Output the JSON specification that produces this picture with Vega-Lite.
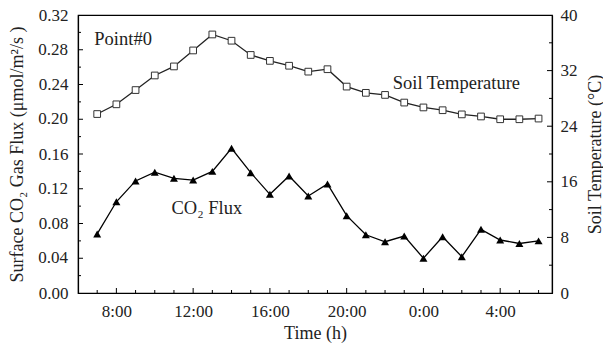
{
  "$schema": "https://vega.github.io/schema/vega-lite/v6.json",
  "width": 474,
  "height": 278,
  "autosize": {"type": "none"},
  "padding": {"left": 78, "top": 15, "right": 51, "bottom": 52},
  "background": "white",
  "config": {
    "view": {"stroke": "black", "strokeWidth": 1.2},
    "font": "Liberation Serif",
    "axis": {
      "domainColor": "black",
      "domainWidth": 1.2,
      "ticks": false,
      "labelColor": "#222",
      "titleColor": "#222",
      "labelFont": "Liberation Serif",
      "titleFont": "Liberation Serif",
      "labelFontSize": 17,
      "titleFontSize": 18,
      "titleFontWeight": "normal",
      "labelOverlap": false,
      "grid": false
    }
  },
  "datasets": {
    "main": [
      {"hour": 7, "flux": 0.068, "temp": 25.75},
      {"hour": 8, "flux": 0.105, "temp": 27.15},
      {"hour": 9, "flux": 0.129, "temp": 29.2},
      {"hour": 10, "flux": 0.139, "temp": 31.3},
      {"hour": 11, "flux": 0.132, "temp": 32.6},
      {"hour": 12, "flux": 0.130, "temp": 34.9},
      {"hour": 13, "flux": 0.140, "temp": 37.2},
      {"hour": 14, "flux": 0.1666, "temp": 36.3},
      {"hour": 15, "flux": 0.1385, "temp": 34.25},
      {"hour": 16, "flux": 0.1136, "temp": 33.4},
      {"hour": 17, "flux": 0.1347, "temp": 32.7},
      {"hour": 18, "flux": 0.1117, "temp": 31.85},
      {"hour": 19, "flux": 0.1255, "temp": 32.2},
      {"hour": 20, "flux": 0.089, "temp": 29.7},
      {"hour": 21, "flux": 0.067, "temp": 28.8},
      {"hour": 22, "flux": 0.059, "temp": 28.5},
      {"hour": 23, "flux": 0.0656, "temp": 27.4},
      {"hour": 24, "flux": 0.040, "temp": 26.7},
      {"hour": 25, "flux": 0.0648, "temp": 26.3},
      {"hour": 26, "flux": 0.0418, "temp": 25.7},
      {"hour": 27, "flux": 0.0733, "temp": 25.4},
      {"hour": 28, "flux": 0.061, "temp": 25.0},
      {"hour": 29, "flux": 0.057, "temp": 25.0},
      {"hour": 30, "flux": 0.060, "temp": 25.1}
    ],
    "notes": [
      {"label": "Point#0", "hour": 6.85, "flux": 0.292},
      {"label": "Soil Temperature", "hour": 22.4, "flux": 0.2417},
      {"label": "CO₂ Flux", "hour": 10.87, "flux": 0.0978}
    ],
    "hourMajor": [
      {"hour": 8, "flux": 0}, {"hour": 12, "flux": 0}, {"hour": 16, "flux": 0},
      {"hour": 20, "flux": 0}, {"hour": 24, "flux": 0}, {"hour": 28, "flux": 0}
    ],
    "hourMinor": [
      {"hour": 7, "flux": 0}, {"hour": 9, "flux": 0}, {"hour": 10, "flux": 0}, {"hour": 11, "flux": 0},
      {"hour": 13, "flux": 0}, {"hour": 14, "flux": 0}, {"hour": 15, "flux": 0}, {"hour": 17, "flux": 0},
      {"hour": 18, "flux": 0}, {"hour": 19, "flux": 0}, {"hour": 21, "flux": 0}, {"hour": 22, "flux": 0},
      {"hour": 23, "flux": 0}, {"hour": 25, "flux": 0}, {"hour": 26, "flux": 0}, {"hour": 27, "flux": 0},
      {"hour": 29, "flux": 0}, {"hour": 30, "flux": 0}
    ],
    "fluxMajor": [
      {"hour": 6, "flux": 0.04}, {"hour": 6, "flux": 0.08}, {"hour": 6, "flux": 0.12}, {"hour": 6, "flux": 0.16},
      {"hour": 6, "flux": 0.2}, {"hour": 6, "flux": 0.24}, {"hour": 6, "flux": 0.28}
    ],
    "fluxMinor": [
      {"hour": 6, "flux": 0.02}, {"hour": 6, "flux": 0.06}, {"hour": 6, "flux": 0.1}, {"hour": 6, "flux": 0.14},
      {"hour": 6, "flux": 0.18}, {"hour": 6, "flux": 0.22}, {"hour": 6, "flux": 0.26}, {"hour": 6, "flux": 0.3}
    ],
    "fluxLabels": [
      {"hour": 6, "flux": 0.04}, {"hour": 6, "flux": 0.12}, {"hour": 6, "flux": 0.2}, {"hour": 6, "flux": 0.28}
    ],
    "tempMajor": [
      {"hour": 30.7, "temp": 8}, {"hour": 30.7, "temp": 16}, {"hour": 30.7, "temp": 24}, {"hour": 30.7, "temp": 32}
    ],
    "tempMinor": [
      {"hour": 30.7, "temp": 4}, {"hour": 30.7, "temp": 12}, {"hour": 30.7, "temp": 20}, {"hour": 30.7, "temp": 28}, {"hour": 30.7, "temp": 36}
    ]
  },
  "data": {"name": "main"},
  "encoding": {
    "x": {
      "field": "hour",
      "type": "quantitative",
      "scale": {"domain": [6, 30.7], "nice": false, "zero": false},
      "axis": {
        "title": "Time (h)",
        "titlePadding": 5,
        "values": [8, 12, 16, 20, 24, 28],
        "labelExpr": "(datum.value % 24) + ':00'",
        "labelPadding": 10,
        "labelOverlap": false
      }
    }
  },
  "layer": [
    {
      "layer": [
        {
          "mark": {"type": "line", "color": "black", "strokeWidth": 1.3},
          "encoding": {
            "y": {
              "field": "flux",
              "type": "quantitative",
              "scale": {"domain": [0, 0.32], "nice": false},
              "axis": {
                "title": "Surface CO₂ Gas Flux (μmol/m²/s )",
                "values": [0, 0.08, 0.16, 0.24, 0.32],
                "format": ".2f",
                "labelOverlap": false,
                "labelPadding": 10,
                "titlePadding": 12
              }
            }
          }
        },
        {
          "mark": {"type": "point", "shape": "triangle-up", "filled": true, "color": "black", "size": 64, "opacity": 1},
          "encoding": {"y": {"field": "flux", "type": "quantitative"}}
        },
        {
          "data": {"name": "notes"},
          "mark": {"type": "text", "align": "left", "baseline": "middle", "fontSize": 18.5, "color": "#222", "font": "Liberation Serif"},
          "encoding": {
            "y": {"field": "flux", "type": "quantitative"},
            "text": {"field": "label"}
          }
        },
        {
          "data": {"name": "hourMajor"},
          "mark": {"type": "tick", "orient": "vertical", "color": "black", "opacity": 1, "size": 5, "thickness": 1, "yOffset": -2.5},
          "encoding": {"y": {"field": "flux", "type": "quantitative"}}
        },
        {
          "data": {"name": "hourMinor"},
          "mark": {"type": "tick", "orient": "vertical", "color": "black", "opacity": 1, "size": 3, "thickness": 1, "yOffset": -1.5},
          "encoding": {"y": {"field": "flux", "type": "quantitative"}}
        },
        {
          "data": {"name": "fluxMajor"},
          "mark": {"type": "tick", "orient": "horizontal", "color": "black", "opacity": 1, "size": 5, "thickness": 1, "xOffset": 2.5},
          "encoding": {"y": {"field": "flux", "type": "quantitative"}}
        },
        {
          "data": {"name": "fluxMinor"},
          "mark": {"type": "tick", "orient": "horizontal", "color": "black", "opacity": 1, "size": 3, "thickness": 1, "xOffset": 1.5},
          "encoding": {"y": {"field": "flux", "type": "quantitative"}}
        },
        {
          "data": {"name": "fluxLabels"},
          "mark": {"type": "text", "align": "right", "baseline": "middle", "dx": -10, "fontSize": 17, "color": "#222", "font": "Liberation Serif"},
          "encoding": {
            "y": {"field": "flux", "type": "quantitative"},
            "text": {"field": "flux", "type": "quantitative", "format": ".2f"}
          }
        }
      ]
    },
    {
      "layer": [
        {
          "mark": {"type": "line", "color": "#222", "strokeWidth": 1.3},
          "encoding": {
            "y": {
              "field": "temp",
              "type": "quantitative",
              "scale": {"domain": [0, 40], "nice": false},
              "axis": {
                "orient": "right",
                "title": "Soil Temperature (°C)",
                "titleAngle": 270,
                "titleBaseline": "top",
                "values": [0, 8, 16, 24, 32, 40],
                "labelOverlap": false,
                "labelPadding": 8,
                "titlePadding": 9
              }
            }
          }
        },
        {
          "mark": {"type": "point", "shape": "square", "filled": true, "fill": "white", "stroke": "#333", "strokeWidth": 1, "size": 45, "opacity": 1},
          "encoding": {"y": {"field": "temp", "type": "quantitative"}}
        },
        {
          "data": {"name": "tempMajor"},
          "mark": {"type": "tick", "orient": "horizontal", "color": "black", "opacity": 1, "size": 5, "thickness": 1, "xOffset": -2.5},
          "encoding": {"y": {"field": "temp", "type": "quantitative"}}
        },
        {
          "data": {"name": "tempMinor"},
          "mark": {"type": "tick", "orient": "horizontal", "color": "black", "opacity": 1, "size": 3, "thickness": 1, "xOffset": -1.5},
          "encoding": {"y": {"field": "temp", "type": "quantitative"}}
        }
      ]
    }
  ],
  "resolve": {"scale": {"y": "independent"}}
}
